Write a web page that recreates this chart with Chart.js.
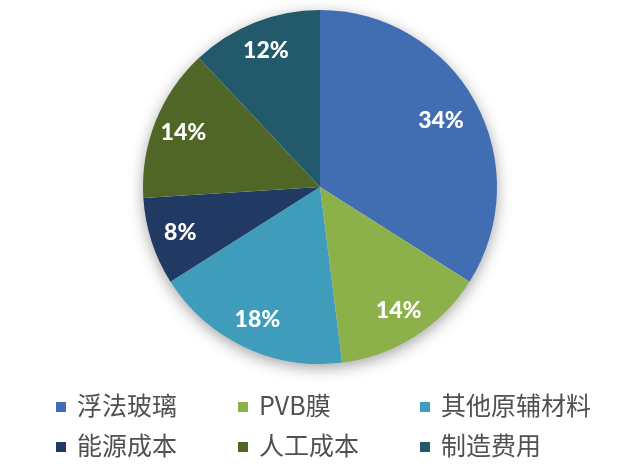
<!DOCTYPE html>
<html>
<head>
<meta charset="utf-8">
<script src="https://cdn.jsdelivr.net/npm/chart.js@4/dist/chart.umd.min.js"></script>
<style>
  body { margin: 0; background: #fff; }
  #wrap { position: relative; width: 636px; height: 470px; }
  #legend { position: absolute; left: 0; top: 0; width: 636px; height: 470px; pointer-events: none;
    font-family: "Noto Sans CJK SC", sans-serif; font-size: 25px; color: #505050; }
  .item { position: absolute; height: 30px; line-height: 30px; white-space: nowrap; }
  .box { position: absolute; width: 10px; height: 10px; top: 10px; left: 0; }
  .txt { position: absolute; left: 21px; top: -3px; }
</style>
</head>
<body>
<div id="wrap">
  <canvas id="myChart" width="636" height="470"></canvas>
  <div id="legend"></div>
</div>
<script>
const labels = ['浮法玻璃', 'PVB膜', '其他原辅材料', '能源成本', '人工成本', '制造费用'];
const shares = [34, 14, 18, 8, 14, 12];
const colors = ['#416db2', '#8cb04a', '#3f9cba', '#213a63', '#4f6627', '#225a6c'];

// soft shadow behind the whole pie
const shadowPlugin = {
    id: 'pieShadow',
    beforeDatasetsDraw(chart) {
        const arc = chart.getDatasetMeta(0).data[0];
        if (!arc) return;
        const ctx = chart.ctx;
        ctx.save();
        ctx.shadowColor = 'rgba(0,0,0,0.4)';
        ctx.shadowBlur = 16;
        ctx.shadowOffsetY = 4;
        ctx.fillStyle = '#ffffff';
        ctx.beginPath();
        ctx.arc(arc.x, arc.y, arc.outerRadius - 1, 0, Math.PI * 2);
        ctx.fill();
        ctx.restore();
    }
};

// percentage labels inside the slices
const labelPlugin = {
    id: 'pctLabels',
    afterDatasetsDraw(chart) {
        const ctx = chart.ctx;
        const meta = chart.getDatasetMeta(0);
        ctx.save();
        ctx.font = '900 23px Lato, "Open Sans", sans-serif';
        ctx.fillStyle = '#ffffff';
        ctx.textAlign = 'center';
        ctx.textBaseline = 'middle';
        meta.data.forEach((arc, i) => {
            const p = arc.getProps(['x', 'y', 'startAngle', 'endAngle', 'outerRadius']);
            const mid = (p.startAngle + p.endAngle) / 2;
            const r = p.outerRadius * (i === 0 ? 0.78 : 0.83);
            ctx.fillText(shares[i] + '%', p.x + Math.cos(mid) * r, p.y + Math.sin(mid) * r);
        });
        ctx.restore();
    }
};

const ctx = document.getElementById('myChart').getContext('2d');

const myChart = new Chart(ctx, {
    type: 'pie',
    data: {
        labels: labels,
        datasets: [{
            data: shares,
            backgroundColor: colors,
            borderWidth: 0
        }]
    },
    options: {
        responsive: false,
        animation: false,
        layout: {
            padding: { top: 10, bottom: 106, left: 143, right: 139 }
        },
        plugins: {
            legend: { display: false },
            tooltip: { enabled: false }
        }
    },
    plugins: [shadowPlugin, labelPlugin]
});

// legend laid out in three aligned columns, two rows
const colX = [56, 238, 420];
const rowY = [392, 432];
const legend = document.getElementById('legend');
labels.forEach((name, i) => {
    const item = document.createElement('div');
    item.className = 'item';
    item.style.left = colX[i % 3] + 'px';
    item.style.top = rowY[Math.floor(i / 3)] + 'px';
    item.innerHTML = '<span class="box" style="background:' + colors[i] + '"></span><span class="txt">' + name + '</span>';
    legend.appendChild(item);
});
</script>
</body>
</html>
